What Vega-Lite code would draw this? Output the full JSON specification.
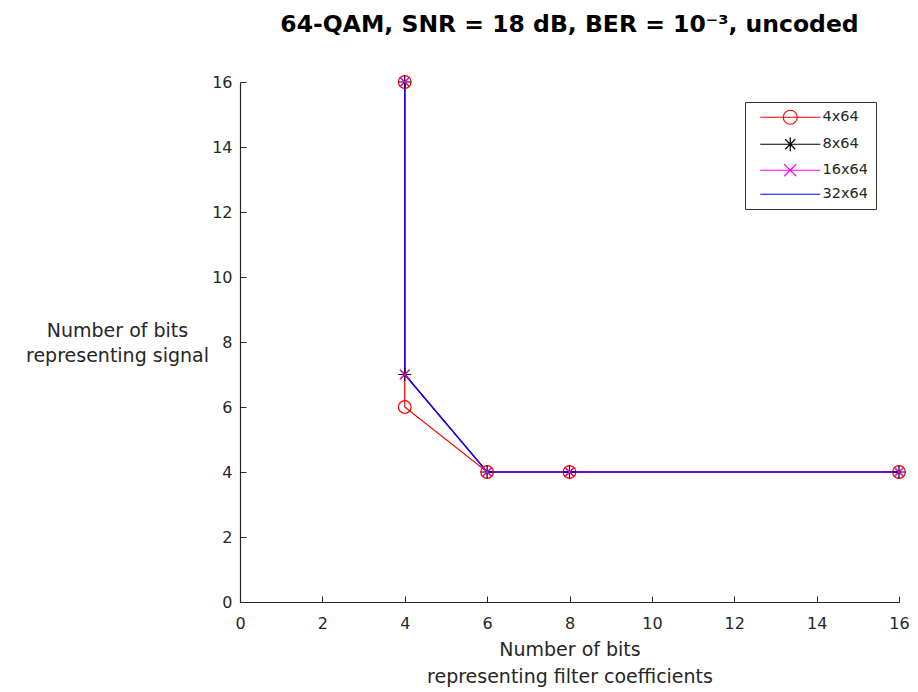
{
  "$schema": "https://vega.github.io/schema/vega-lite/v6.json",
  "width": 659,
  "height": 520,
  "autosize": {"type": "none"},
  "padding": {"left": 240, "top": 82, "right": 19, "bottom": 90},
  "background": "white",
  "title": {"text": "64-QAM, SNR = 18 dB, BER = 10⁻³, uncoded", "font": "DejaVu Sans", "fontWeight": "bold", "fontSize": 23.5, "color": "#000000", "anchor": "middle", "offset": 37},
  "data": {"values": [
    {"series": "4x64", "ord": 1, "filt": 4, "sig": 16},
    {"series": "4x64", "ord": 2, "filt": 4, "sig": 6},
    {"series": "4x64", "ord": 3, "filt": 6, "sig": 4},
    {"series": "4x64", "ord": 4, "filt": 8, "sig": 4},
    {"series": "4x64", "ord": 5, "filt": 16, "sig": 4},
    {"series": "8x64", "ord": 1, "filt": 4, "sig": 16},
    {"series": "8x64", "ord": 2, "filt": 4, "sig": 7},
    {"series": "8x64", "ord": 3, "filt": 6, "sig": 4},
    {"series": "8x64", "ord": 4, "filt": 8, "sig": 4},
    {"series": "8x64", "ord": 5, "filt": 16, "sig": 4},
    {"series": "16x64", "ord": 1, "filt": 4, "sig": 16},
    {"series": "16x64", "ord": 2, "filt": 4, "sig": 7},
    {"series": "16x64", "ord": 3, "filt": 6, "sig": 4},
    {"series": "16x64", "ord": 4, "filt": 8, "sig": 4},
    {"series": "16x64", "ord": 5, "filt": 16, "sig": 4},
    {"series": "32x64", "ord": 1, "filt": 4, "sig": 16},
    {"series": "32x64", "ord": 2, "filt": 4, "sig": 7},
    {"series": "32x64", "ord": 3, "filt": 6, "sig": 4},
    {"series": "32x64", "ord": 4, "filt": 8, "sig": 4},
    {"series": "32x64", "ord": 5, "filt": 16, "sig": 4}
  ]},
  "encoding": {
    "x": {"field": "filt", "type": "quantitative", "scale": {"domain": [0, 16], "nice": false, "zero": false},
      "axis": {"values": [0, 2, 4, 6, 8, 10, 12, 14, 16], "title": ["Number of bits", "representing filter coefficients"], "titleY": 38, "titleBaseline": "top", "titleLineHeight": 27, "labelPadding": 19, "labelFlush": false}},
    "y": {"field": "sig", "type": "quantitative", "scale": {"domain": [0, 16], "nice": false, "zero": false},
      "axis": {"values": [0, 2, 4, 6, 8, 10, 12, 14, 16], "title": ["Number of bits", "representing signal"], "titleAngle": 0, "titleAlign": "center", "titleBaseline": "middle", "titleX": -123, "titleY": 248, "titleLineHeight": 25, "labelPadding": 14, "labelFlush": false}}
  },
  "layer": [
    {
      "mark": {"type": "point", "filled": false, "strokeWidth": 1.2, "opacity": 0},
      "encoding": {
        "color": {"field": "series", "type": "nominal", "scale": {"domain": ["4x64", "8x64", "16x64", "32x64"], "range": ["#ff0000", "#000000", "#ff00ff", "#0000ff"]},
          "legend": {"title": null, "orient": "none", "legendX": 505, "legendY": 20, "padding": 8, "symbolOffset": 30, "labelOffset": 25, "rowPadding": 7, "symbolSize": 100, "symbolStrokeWidth": 1.2, "symbolOpacity": 1, "symbolFillColor": "transparent", "strokeColor": "#333333", "fillColor": "#ffffff", "labelFont": "DejaVu Sans", "labelFontSize": 14.5, "labelColor": "#262626", "labelLimit": 200}},
        "shape": {"field": "series", "type": "nominal", "scale": {"domain": ["4x64", "8x64", "16x64", "32x64"], "range": [
            "M-6,0H6M1.4,0A1.4,1.4 0 1,1 -1.4,0A1.4,1.4 0 1,1 1.4,0",
            "M-6,0H6M0,-1.4V1.4M-1,-1L1,1M-1,1L1,-1",
            "M-6,0H6M-1.2,-1.2L1.2,1.2M-1.2,1.2L1.2,-1.2",
            "M-6,0H6"]},
          "legend": {"title": null, "orient": "none", "legendX": 505, "legendY": 20, "padding": 8, "symbolOffset": 30, "labelOffset": 25, "rowPadding": 7, "symbolSize": 100, "symbolStrokeWidth": 1.2, "symbolOpacity": 1, "symbolFillColor": "transparent", "strokeColor": "#333333", "fillColor": "#ffffff", "labelFont": "DejaVu Sans", "labelFontSize": 14.5, "labelColor": "#262626", "labelLimit": 200}}
      }
    },
    {
      "mark": {"type": "line", "strokeWidth": 1.2},
      "encoding": {
        "stroke": {"field": "series", "type": "nominal", "scale": {"domain": ["4x64", "8x64", "16x64", "32x64"], "range": ["#ff0000", "#000000", "#ff00ff", "#0000ff"]}, "legend": null},
        "order": {"field": "ord", "type": "quantitative"}
      }
    },
    {
      "transform": [{"filter": "datum.series === '4x64'"}],
      "mark": {"type": "point", "shape": "circle", "filled": false, "stroke": "#ff0000", "strokeWidth": 1.2, "size": 160, "opacity": 1}
    },
    {
      "transform": [{"filter": "datum.series === '8x64'"}],
      "mark": {"type": "point", "shape": "M-1,0H1M0,-1V1M-0.72,-0.72L0.72,0.72M-0.72,0.72L0.72,-0.72", "filled": false, "stroke": "#000000", "strokeWidth": 1.2, "size": 170, "opacity": 1}
    },
    {
      "transform": [{"filter": "datum.series === '16x64'"}],
      "mark": {"type": "point", "shape": "M-0.8,-0.8L0.8,0.8M-0.8,0.8L0.8,-0.8", "filled": false, "stroke": "#ff00ff", "strokeWidth": 1.2, "size": 150, "opacity": 1}
    }
  ],
  "config": {
    "view": {"stroke": null},
    "axis": {"grid": false, "domainColor": "#262626", "domainWidth": 1.2, "tickColor": "#262626", "tickSize": -6, "tickWidth": 1, "labelColor": "#262626", "labelFont": "DejaVu Sans", "labelFontSize": 16, "titleColor": "#262626", "titleFont": "DejaVu Sans", "titleFontSize": 19, "titleFontWeight": "normal"}
  }
}
